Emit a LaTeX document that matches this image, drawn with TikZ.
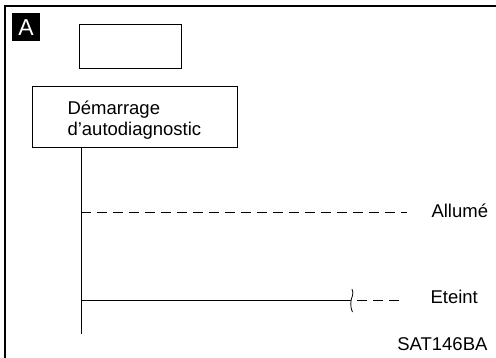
\documentclass[tikz,border=0pt]{standalone}
\usepackage{fontspec}
\setmainfont{Liberation Sans}
\setsansfont{Liberation Sans}
\usetikzlibrary{positioning}

\begin{document}
\begin{tikzpicture}[x=1pt,y=-1pt,line width=1.1pt,font=\fontsize{18.5}{21}\selectfont\sffamily,
  box/.style={draw,line width=1.3pt,inner sep=0pt,anchor=north west},
  tag/.style={anchor=base west,inner sep=0pt},
  wire/.style={line width=1pt},
  dashwire/.style={line width=1pt,dash pattern=on 10pt off 6pt}]
\useasboundingbox (0,0) rectangle (496,358);
% cadre
\draw[line width=1.4pt] (496,6) -- (5,6) -- (5,358);
\node[box,fill=black,minimum width=27pt,minimum height=27pt,text=white,
  font=\fontsize{23}{23}\selectfont\sffamily](mark) at (12,13){A};
\node[box,minimum width=102pt,minimum height=44pt](blank) at (79,24){};
\node[box,minimum width=205pt,minimum height=61pt](start) at (32,86){};
\node[tag,align=left](starttext) at (67,136){Démarrage\\d’autodiagnostic};
% lignes
\coordinate (stemtop) at (81,147);
\coordinate (stembot) at (81,334);
\draw[wire] (stemtop) -- (stembot);
\coordinate (onend) at (407,213);
\draw[dashwire] (stemtop |- onend) -- (onend);
\node[tag](allume) at (431,218){Allumé};
\coordinate (brk) at (351,301);
\draw[wire] (stemtop |- brk) -- (brk);
\draw[line width=.8pt] (352,289) .. controls (354.5,294) and (351,298) .. (brk)
  .. controls (350.5,305) and (351,309) .. (352.5,312);
\coordinate (offstart) at (357,301);
\coordinate (offend) at (403,301);
\draw[dashwire] (offstart) -- (offend);
\node[tag](eteint) at (430,304){Eteint};
\node[anchor=base east,inner sep=0pt](ref) at (488,351){SAT146BA};
\end{tikzpicture}
\end{document}
